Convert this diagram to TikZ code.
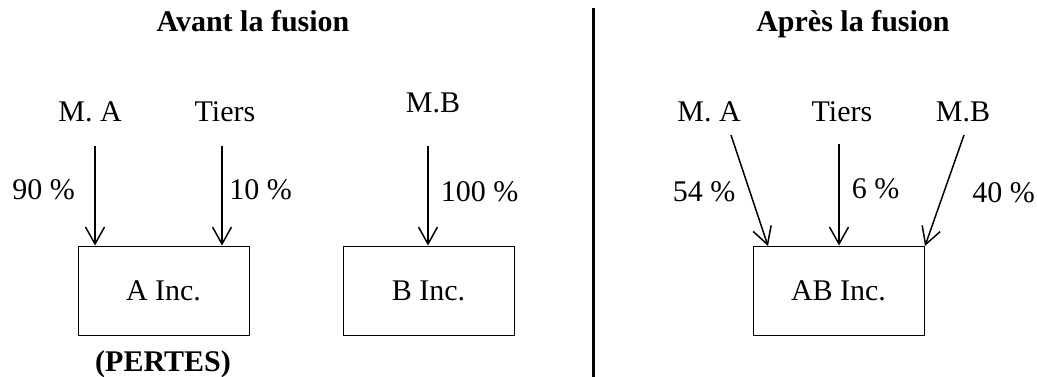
\documentclass[tikz,border=0pt]{standalone}
\usepackage{fontspec}
\setmainfont{Liberation Serif}
\usetikzlibrary{arrows.meta}
\tikzset{
    fuBox/.style={
        draw,
        line width=0.9pt,
        minimum width=171pt,
        minimum height=89pt,
        inner sep=0pt,
        font=\fontsize{30}{36}\selectfont
    },
    fuText/.style={anchor=base,inner sep=0pt,font=\fontsize{30}{36}\selectfont},
    fuTitle/.style={anchor=base,inner sep=0pt,font=\fontsize{30}{36}\selectfont\bfseries},
    fuArrow/.style={-{Straight Barb[length=17pt,width=19pt,line width=1.5pt]},line width=1.5pt},
    fuDivider/.style={line width=3.6pt}
}
\begin{document}
\begin{tikzpicture}[x=1pt,y=-1pt]
    \useasboundingbox (0,0) rectangle (1037,377);

    % titles and divider
    \node[fuTitle] (tAvant) at (253,32) {Avant la fusion};
    \node[fuTitle] (tApres) at (853,32) {Après la fusion};
    \coordinate (divTop) at (593.5,8);
    \coordinate (divBot) at (593.5,377);
    \draw[fuDivider] (divTop) -- (divBot);

    % before the merger
    \node[fuBox] (boxA) at (163.5,290.5) {A Inc.};
    \node[fuBox] (boxB) at (428.5,290.5) {B Inc.};
    \node[fuTitle] (pertes) at (163,371) {(PERTES)};

    \node[fuText] (maL) at (90,122) {M. A};
    \node[fuText] (tiL) at (225,122) {Tiers};
    \node[fuText] (mbL) at (433,113) {M.B};

    \coordinate (maStart) at (95,146);
    \coordinate (tiStart) at (222,146);
    \coordinate (mbStart) at (428,146);
    \draw[fuArrow] (maStart) -- (maStart |- boxA.north);
    \draw[fuArrow] (tiStart) -- (tiStart |- boxA.north);
    \draw[fuArrow] (mbStart) -- (mbStart |- boxB.north);

    \node[fuText] (pNinety) at (43.5,200) {90 \%};
    \node[fuText] (pTen) at (260.5,200) {10 \%};
    \node[fuText] (pHundred) at (479.5,201) {100 \%};

    % after the merger
    \node[fuBox] (boxAB) at (838.5,290.5) {AB Inc.};

    \node[fuText] (maR) at (709,122) {M. A};
    \node[fuText] (tiR) at (842,122) {Tiers};
    \node[fuText] (mbR) at (963,122) {M.B};

    \coordinate (maRStart) at (731,135);
    \coordinate (tiRStart) at (839,144);
    \coordinate (mbRStart) at (964,135);
    \coordinate (maREnd) at (768,246);
    \coordinate (mbREnd) at (925,246);
    \draw[fuArrow] (maRStart) -- (maREnd);
    \draw[fuArrow] (tiRStart) -- (tiRStart |- boxAB.north);
    \draw[fuArrow] (mbRStart) -- (mbREnd);

    \node[fuText] (pFiftyFour) at (704,201) {54 \%};
    \node[fuText] (pSix) at (875.5,199) {6 \%};
    \node[fuText] (pForty) at (1003.5,203) {40 \%};
\end{tikzpicture}
\end{document}
